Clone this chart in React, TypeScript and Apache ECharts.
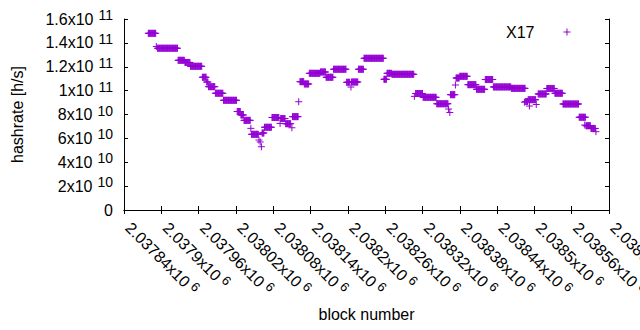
import React, { useEffect, useRef } from 'react';
import * as echarts from 'echarts';

// ---- data ----
const seriesName = 'X17';
const xAxisTitle = 'block number';
const yAxisTitle = 'hashrate [h/s]';
const xMin = 2037840;
const xMax = 2038620;
const xStep = 60;
const yMin = 0;
const yMax = 1.6e11;
const yStep = 2e10;

// runs of consecutive blocks that share one hashrate value (GH/s)
const runStart = [
  2037879, 2037892, 2037894, 2037927, 2037938, 2037947, 2037966, 2037973, 2037976, 2037987,
  2038000, 2038022, 2038028, 2038033, 2038044, 2038045, 2038057, 2038059, 2038061, 2038062,
  2038066, 2038078, 2038091, 2038092, 2038100, 2038110, 2038111, 2038121, 2038123, 2038130,
  2038138, 2038156, 2038165, 2038177, 2038198, 2038205, 2038206, 2038217, 2038226, 2038258,
  2038263, 2038271, 2038307, 2038309, 2038321, 2038343, 2038362, 2038364, 2038365, 2038373,
  2038374, 2038380, 2038393, 2038407, 2038421, 2038434, 2038463, 2038484, 2038486, 2038492,
  2038490, 2038503, 2038506, 2038520, 2038533, 2038546, 2038572, 2038581, 2038583, 2038591,
  2038599,
];
const runEnd = [
  2037891, 2037892, 2037926, 2037937, 2037946, 2037965, 2037972, 2037975, 2037986, 2037999,
  2038021, 2038027, 2038032, 2038043, 2038044, 2038056, 2038057, 2038059, 2038061, 2038065,
  2038077, 2038089, 2038091, 2038099, 2038108, 2038110, 2038120, 2038121, 2038129, 2038137,
  2038155, 2038164, 2038176, 2038197, 2038203, 2038205, 2038216, 2038225, 2038257, 2038262,
  2038270, 2038306, 2038307, 2038320, 2038342, 2038361, 2038362, 2038364, 2038372, 2038373,
  2038379, 2038392, 2038406, 2038420, 2038433, 2038462, 2038485, 2038484, 2038489, 2038492,
  2038502, 2038503, 2038519, 2038532, 2038545, 2038571, 2038582, 2038581, 2038590, 2038598,
  2038599,
];
const runValueGH = [
  148.0, 137.0, 135.5, 125.4, 123.6, 120.4, 111.2, 107.2, 103.3, 97.8,
  91.9, 82.5, 79.6, 75.1, 68.4, 63.4, 58.6, 57.0, 53.0, 64.5,
  69.3, 77.5, 72.5, 76.6, 72.3, 68.9, 78.2, 90.7, 107.5, 105.6,
  114.5, 115.6, 111.2, 117.9, 107.0, 103.0, 107.2, 117.9, 127.1, 109.5,
  114.5, 113.7, 95.2, 97.6, 94.4, 89.0, 84.6, 81.7, 96.6, 104.7,
  110.6, 112.0, 105.0, 101.1, 109.3, 103.1, 101.9, 90.3, 90.9, 87.1,
  92.4, 88.4, 97.2, 101.8, 97.8, 88.8, 77.7, 71.2, 70.6, 68.3,
  65.6,
];

const COLOR = '#9400D3';
const FONT = '"Liberation Sans", Arial, sans-serif';
const PLUS = 'path://M5,0L5,10M0,5L10,5';

function sciLabel(v: number): string {
  if (v === 0) return '{m|0}';
  const e = Math.floor(Math.log10(Math.abs(v)) + 1e-9);
  const m = parseFloat((v / Math.pow(10, e)).toFixed(5));
  return `{m|${m}x10}{s|${e}}`;
}

const richY = {
  m: { fontSize: 16, fontFamily: FONT, color: '#000' },
  s: { fontSize: 14, fontFamily: FONT, color: '#000', padding: [0, 0, 8, 5] },
};
const richX = {
  m: { fontSize: 16, fontFamily: FONT, color: '#000' },
  s: { fontSize: 13, fontFamily: FONT, color: '#000', padding: [0, 0, 8, 4] },
};

export default function App() {
  const ref = useRef<HTMLDivElement>(null);
  useEffect(() => {
    document.body.style.margin = '0';
    if (!ref.current) return;
    const chart = echarts.init(ref.current, undefined, { renderer: 'svg' });
    const points: [number, number][] = [];
    for (let i = 0; i < runStart.length; i++) {
      for (let b = runStart[i]; b <= runEnd[i]; b++) points.push([b, runValueGH[i] * 1e9]);
    }
    const axisLine = { show: true, lineStyle: { color: '#000', width: 1 } };
    chart.setOption({
      animation: false,
      grid: {
        left: 124, right: 31, top: 19, bottom: 120,
        containLabel: false, show: false, outerBoundsMode: 'none',
      },
      legend: {
        data: [{ name: seriesName }],
        left: 506,
        top: 24,
        padding: 0,
        align: 'right',
        icon: PLUS,
        itemWidth: 7,
        itemHeight: 7,
        selectedMode: false,
        itemStyle: { color: COLOR, borderColor: COLOR, borderWidth: 1 },
        textStyle: { fontSize: 16, fontFamily: FONT, color: '#000', padding: [0, 24, 0, 0] },
      },
      xAxis: [
        {
          type: 'value',
          min: xMin,
          max: xMax,
          interval: xStep,
          position: 'bottom',
          name: xAxisTitle,
          nameLocation: 'middle',
          nameGap: 96,
          nameTextStyle: { fontSize: 16, fontFamily: FONT, color: '#000' },
          axisLine,
          axisTick: { show: true, inside: true, length: 4, lineStyle: { color: '#000' } },
          splitLine: { show: false },
          axisLabel: {
            rotate: -45,
            margin: 11,
            padding: [0, 0, 0, 6],
            formatter: (v: number) => sciLabel(v),
            rich: richX,
            showMinLabel: true,
            showMaxLabel: true,
          },
        },
        {
          type: 'value',
          min: xMin,
          max: xMax,
          interval: xStep,
          position: 'top',
          axisLine,
          axisTick: { show: true, inside: true, length: 4, lineStyle: { color: '#000' } },
          axisLabel: { show: false },
          splitLine: { show: false },
        },
      ],
      yAxis: [
        {
          type: 'value',
          min: yMin,
          max: yMax,
          interval: yStep,
          position: 'left',
          name: yAxisTitle,
          nameLocation: 'middle',
          nameGap: 99,
          nameTextStyle: { fontSize: 16, fontFamily: FONT, color: '#000' },
          axisLine,
          axisTick: { show: true, inside: true, length: 4, lineStyle: { color: '#000' } },
          splitLine: { show: false },
          axisLabel: { margin: 11, formatter: (v: number) => sciLabel(v), rich: richY },
        },
        {
          type: 'value',
          min: yMin,
          max: yMax,
          interval: yStep,
          position: 'right',
          axisLine,
          axisTick: { show: true, inside: true, length: 4, lineStyle: { color: '#000' } },
          axisLabel: { show: false },
          splitLine: { show: false },
        },
      ],
      series: [
        {
          name: seriesName,
          type: 'scatter',
          xAxisIndex: 0,
          yAxisIndex: 0,
          symbol: PLUS,
          symbolSize: 7,
          silent: true,
          itemStyle: { color: COLOR, borderColor: COLOR, borderWidth: 1, opacity: 1 },
          emphasis: { disabled: true },
          data: points,
        },
      ],
    });
    return () => chart.dispose();
  }, []);
  return <div ref={ref} style={{ width: 640, height: 330 }} />;
}
